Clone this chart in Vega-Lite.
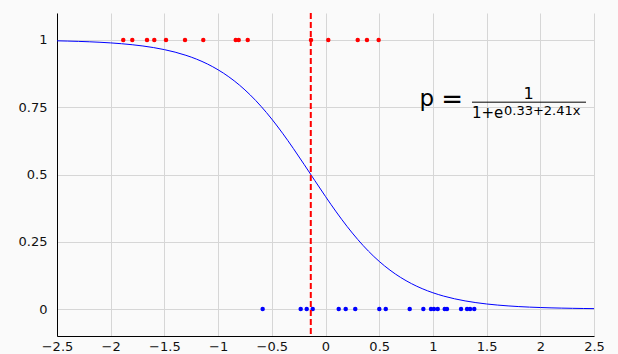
{
  "$schema": "https://vega.github.io/schema/vega-lite/v6.json",
  "width": 537,
  "height": 323,
  "autosize": {"type": "none"},
  "padding": {"left": 57, "top": 13, "right": 24, "bottom": 18},
  "background": "#fafafa",
  "config": {
    "view": {"stroke": null},
    "axis": {
      "labelFont": "DejaVu Sans",
      "labelFontSize": 13,
      "labelColor": "#111111",
      "ticks": false,
      "tickSize": 0,
      "domainColor": "#000000",
      "domainWidth": 1,
      "gridColor": "#d6d6d6",
      "gridWidth": 1,
      "title": null
    }
  },
  "datasets": {
    "curve": [
      {"x": -2.5, "p": 0.99665}, {"x": -2.4, "p": 0.99574}, {"x": -2.3, "p": 0.99458}, {"x": -2.2, "p": 0.99312},
      {"x": -2.1, "p": 0.99126}, {"x": -2.0, "p": 0.9889}, {"x": -1.9, "p": 0.98592}, {"x": -1.8, "p": 0.98216},
      {"x": -1.7, "p": 0.97741}, {"x": -1.6, "p": 0.97143}, {"x": -1.5, "p": 0.96392}, {"x": -1.4, "p": 0.95454},
      {"x": -1.3, "p": 0.94286}, {"x": -1.2, "p": 0.92842}, {"x": -1.1, "p": 0.91066}, {"x": -1.0, "p": 0.88894},
      {"x": -0.9, "p": 0.86285}, {"x": -0.8, "p": 0.83175}, {"x": -0.7, "p": 0.79528}, {"x": -0.6, "p": 0.75326},
      {"x": -0.5, "p": 0.70579}, {"x": -0.4, "p": 0.6534}, {"x": -0.3, "p": 0.59701}, {"x": -0.2, "p": 0.53792},
      {"x": -0.1, "p": 0.47776}, {"x": 0.0, "p": 0.41824}, {"x": 0.1, "p": 0.361}, {"x": 0.2, "p": 0.30747},
      {"x": 0.3, "p": 0.25865}, {"x": 0.4, "p": 0.21517}, {"x": 0.5, "p": 0.17726}, {"x": 0.6, "p": 0.1448},
      {"x": 0.7, "p": 0.11743}, {"x": 0.8, "p": 0.09466}, {"x": 0.9, "p": 0.07593}, {"x": 1.0, "p": 0.06065},
      {"x": 1.1, "p": 0.04829}, {"x": 1.2, "p": 0.03835}, {"x": 1.3, "p": 0.03038}, {"x": 1.4, "p": 0.02403},
      {"x": 1.5, "p": 0.01898}, {"x": 1.6, "p": 0.01498}, {"x": 1.7, "p": 0.01181}, {"x": 1.8, "p": 0.0093},
      {"x": 1.9, "p": 0.00733}, {"x": 2.0, "p": 0.00577}, {"x": 2.1, "p": 0.00454}, {"x": 2.2, "p": 0.00357},
      {"x": 2.3, "p": 0.00281}, {"x": 2.4, "p": 0.00221}, {"x": 2.5, "p": 0.00174}
    ],
    "obs": [
      {"x": -1.883, "y": 1, "cls": "pos"}, {"x": -1.799, "y": 1, "cls": "pos"}, {"x": -1.662, "y": 1, "cls": "pos"},
      {"x": -1.594, "y": 1, "cls": "pos"}, {"x": -1.485, "y": 1, "cls": "pos"}, {"x": -1.308, "y": 1, "cls": "pos"},
      {"x": -1.138, "y": 1, "cls": "pos"}, {"x": -0.836, "y": 1, "cls": "pos"}, {"x": -0.808, "y": 1, "cls": "pos"},
      {"x": -0.724, "y": 1, "cls": "pos"}, {"x": -0.135, "y": 1, "cls": "pos"}, {"x": 0.026, "y": 1, "cls": "pos"},
      {"x": 0.3, "y": 1, "cls": "pos"}, {"x": 0.386, "y": 1, "cls": "pos"}, {"x": 0.495, "y": 1, "cls": "pos"},
      {"x": -0.585, "y": 0, "cls": "neg"}, {"x": -0.231, "y": 0, "cls": "neg"}, {"x": -0.175, "y": 0, "cls": "neg"},
      {"x": -0.119, "y": 0, "cls": "neg"}, {"x": 0.123, "y": 0, "cls": "neg"}, {"x": 0.188, "y": 0, "cls": "neg"},
      {"x": 0.277, "y": 0, "cls": "neg"}, {"x": 0.501, "y": 0, "cls": "neg"}, {"x": 0.561, "y": 0, "cls": "neg"},
      {"x": 0.784, "y": 0, "cls": "neg"}, {"x": 0.911, "y": 0, "cls": "neg"}, {"x": 0.982, "y": 0, "cls": "neg"},
      {"x": 1.01, "y": 0, "cls": "neg"}, {"x": 1.045, "y": 0, "cls": "neg"}, {"x": 1.11, "y": 0, "cls": "neg"},
      {"x": 1.131, "y": 0, "cls": "neg"}, {"x": 1.262, "y": 0, "cls": "neg"}, {"x": 1.318, "y": 0, "cls": "neg"},
      {"x": 1.346, "y": 0, "cls": "neg"}, {"x": 1.385, "y": 0, "cls": "neg"}
    ],
    "threshold": [{"x": -0.137}],
    "one": [{}]
  },
  "layer": [
    {
      "data": {"name": "curve"},
      "mark": {"type": "line", "color": "#0000ff", "strokeWidth": 1, "interpolate": "monotone", "clip": true},
      "encoding": {
        "x": {
          "field": "x", "type": "quantitative",
          "scale": {"domain": [-2.5, 2.5], "nice": false, "zero": false},
          "axis": {"values": [-2.5, -2, -1.5, -1, -0.5, 0, 0.5, 1, 1.5, 2, 2.5], "format": "~g", "labelPadding": 4, "labelFlush": false}
        },
        "y": {
          "field": "p", "type": "quantitative",
          "scale": {"domain": [-0.1, 1.1], "nice": false, "zero": false},
          "axis": {"values": [0, 0.25, 0.5, 0.75, 1], "format": "~g", "labelPadding": 10}
        }
      }
    },
    {
      "data": {"name": "obs"},
      "mark": {"type": "point", "filled": true, "opacity": 1, "size": 20, "shape": "circle"},
      "encoding": {
        "x": {"field": "x", "type": "quantitative"},
        "y": {"field": "y", "type": "quantitative"},
        "color": {"field": "cls", "type": "nominal", "scale": {"domain": ["pos", "neg"], "range": ["#ff0000", "#0000ff"]}, "legend": null}
      }
    },
    {
      "data": {"name": "threshold"},
      "mark": {"type": "rule", "color": "#ff0000", "strokeWidth": 2, "strokeDash": [6, 3]},
      "encoding": {"x": {"field": "x", "type": "quantitative"}}
    },
    {
      "data": {"name": "one"},
      "mark": {"type": "text", "text": "p", "font": "DejaVu Sans", "fontSize": 23, "align": "left", "baseline": "alphabetic", "color": "#000000"},
      "encoding": {"x": {"datum": 0.875}, "y": {"datum": 0.7537}}
    },
    {
      "data": {"name": "one"},
      "mark": {"type": "text", "text": "=", "font": "DejaVu Sans", "fontSize": 26, "align": "center", "baseline": "alphabetic", "color": "#000000"},
      "encoding": {"x": {"datum": 1.178}, "y": {"datum": 0.746}}
    },
    {
      "data": {"name": "one"},
      "mark": {"type": "text", "text": "1", "font": "DejaVu Sans", "fontSize": 16, "align": "center", "baseline": "alphabetic", "color": "#000000"},
      "encoding": {"x": {"datum": 1.89}, "y": {"datum": 0.78}}
    },
    {
      "data": {"name": "one"},
      "mark": {"type": "rule", "color": "#000000", "strokeWidth": 1},
      "encoding": {"x": {"datum": 1.364}, "x2": {"datum": 2.4255}, "y": {"datum": 0.7687}}
    },
    {
      "data": {"name": "one"},
      "mark": {"type": "text", "text": "1+e", "font": "DejaVu Sans", "fontSize": 15, "align": "left", "baseline": "alphabetic", "color": "#000000"},
      "encoding": {"x": {"datum": 1.364}, "y": {"datum": 0.709}}
    },
    {
      "data": {"name": "one"},
      "mark": {"type": "text", "text": "0.33+2.41x", "font": "DejaVu Sans", "fontSize": 13, "align": "left", "baseline": "alphabetic", "color": "#000000"},
      "encoding": {"x": {"datum": 1.662}, "y": {"datum": 0.722}}
    }
  ]
}
